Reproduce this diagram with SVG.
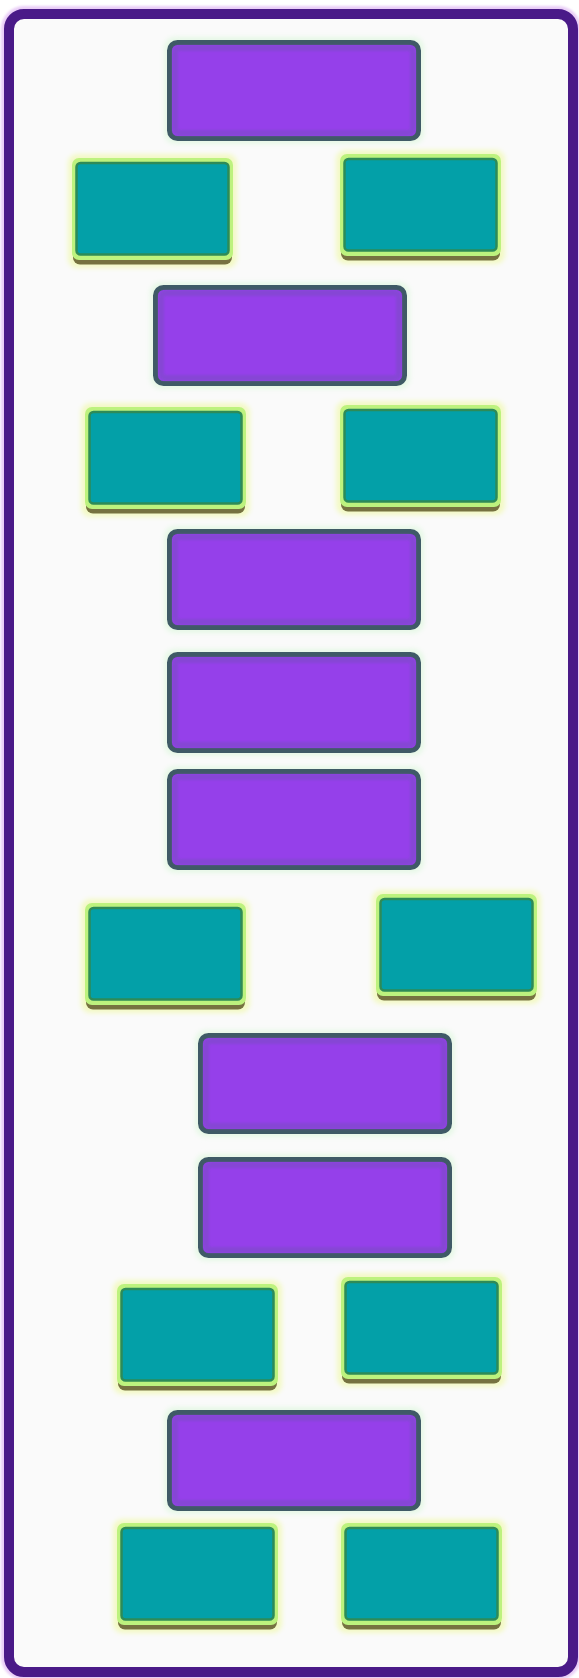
<svg xmlns="http://www.w3.org/2000/svg" width="579" height="1678" viewBox="0 0 579 1678">
  <defs>
    <filter id="glow" x="-10%" y="-10%" width="120%" height="120%">
      <feGaussianBlur stdDeviation="2.5"/>
    </filter>
    <filter id="soft" x="-5%" y="-5%" width="110%" height="110%">
      <feGaussianBlur stdDeviation="1.2"/>
    </filter>
    <style>
      .frame { fill: #fafafa; stroke: #4a1a88; stroke-width: 10; }
      .frameHalo { fill: none; stroke: #e9cdf7; stroke-width: 16; }
      .pGlow { fill: #e6f8e6; }
      .pBox { fill: #9540ea; stroke: #3f5a66; stroke-width: 5; }
      .pInner { fill: none; stroke: #7d4cc8; stroke-width: 6; opacity: 0.6; }
      .tGlow { fill: #f3f9c4; }
      .tShadow { fill: #767240; }
      .tOuter { fill: #bdf27e; }
      .tBox { fill: #03a0a8; stroke: #2e8b57; stroke-width: 2.5; }
    </style>
    <g id="purple">
      <rect class="pGlow" x="-3" y="-3" width="260" height="107" rx="11" filter="url(#glow)"/>
      <rect class="pBox" x="2.5" y="2.5" width="249" height="96" rx="8"/>
      <rect class="pInner" x="8" y="8" width="238" height="85" rx="5" filter="url(#soft)"/>
    </g>
    <g id="teal">
      <rect class="tGlow" x="-4" y="-4" width="169" height="114" rx="9" filter="url(#glow)"/>
      <rect class="tShadow" x="1" y="4.5" width="159" height="102" rx="7"/>
      <rect class="tOuter" x="0" y="0" width="161" height="102" rx="7"/>
      <rect class="tBox" x="4.5" y="5" width="152" height="91.5" rx="4"/>
    </g>
  </defs>

  <rect x="0" y="0" width="579" height="1678" fill="#ffffff"/>
  <g id="frame">
    <rect class="frameHalo" x="9" y="14" width="564" height="1658" rx="15" filter="url(#soft)"/>
    <rect class="frame" x="9" y="14" width="564" height="1658" rx="15"/>
  </g>

  <g id="connectors"></g>

  <g id="p1"><use href="#purple" x="167" y="40"/></g>
  <g id="t1l"><use href="#teal" x="72" y="158"/></g>
  <g id="t1r"><use href="#teal" x="340" y="154"/></g>
  <g id="p2"><use href="#purple" x="153" y="285"/></g>
  <g id="t2l"><use href="#teal" x="85" y="407"/></g>
  <g id="t2r"><use href="#teal" x="340" y="405"/></g>
  <g id="p3"><use href="#purple" x="167" y="529"/></g>
  <g id="p4"><use href="#purple" x="167" y="652"/></g>
  <g id="p5"><use href="#purple" x="167" y="769"/></g>
  <g id="t3l"><use href="#teal" x="85" y="903"/></g>
  <g id="t3r"><use href="#teal" x="376" y="894"/></g>
  <g id="p6"><use href="#purple" x="198" y="1033"/></g>
  <g id="p7"><use href="#purple" x="198" y="1157"/></g>
  <g id="t4l"><use href="#teal" x="117" y="1284"/></g>
  <g id="t4r"><use href="#teal" x="341" y="1277"/></g>
  <g id="p8"><use href="#purple" x="167" y="1410"/></g>
  <g id="t5l"><use href="#teal" x="117" y="1523"/></g>
  <g id="t5r"><use href="#teal" x="341" y="1523"/></g>
</svg>
